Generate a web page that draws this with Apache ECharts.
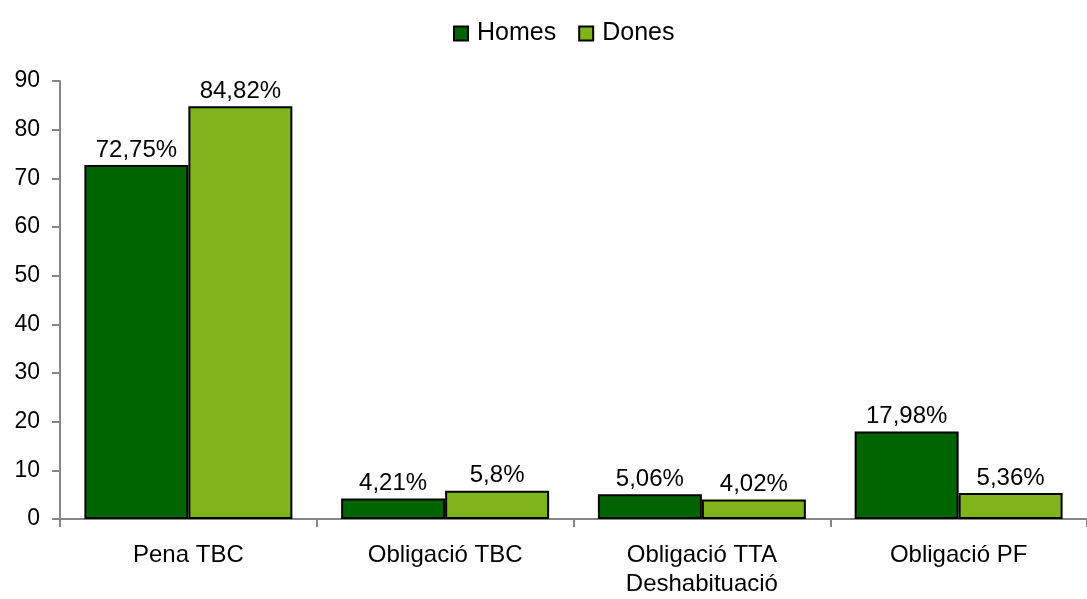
<!DOCTYPE html>
<html>
<head>
<meta charset="utf-8">
<script src="https://cdn.jsdelivr.net/npm/echarts@6/dist/echarts.min.js"></script>
<style>
  html, body { margin: 0; padding: 0; background: #fff; }
  #chart { width: 1087px; height: 599px; }
</style>
</head>
<body>
<div id="chart"></div>
<script>
// Homes vs Dones per tipus de mesura
const categories = ['Pena TBC', 'Obligació TBC', 'Obligació TTA\nDeshabituació', 'Obligació PF'];
const homes = [72.75, 4.21, 5.06, 17.98];
const dones = [84.82, 5.8, 4.02, 5.36];
const yTicks = { min: 0, max: 90, interval: 10 };

const FONT = 'Liberation Sans, Arial, sans-serif';
const AXIS = '#868686';
const fmtPct = v => String(v).replace('.', ',') + '%';

const chart = echarts.init(document.getElementById('chart'), null, { renderer: 'canvas' });

const label = {
  show: true, position: 'top', distance: 3, color: '#000',
  fontFamily: FONT, fontSize: 24, formatter: p => fmtPct(p.value),
};

chart.setOption({
  animation: false,
  textStyle: { fontFamily: FONT },
  legend: {
    top: 16, left: 448, icon: 'rect', itemWidth: 14, itemHeight: 14, itemGap: 22,
    textStyle: { fontSize: 25, color: '#000', fontFamily: FONT, padding: [0, 0, 0, 4] },
    data: ['Homes', 'Dones'],
  },
  grid: { left: 60, top: 81, width: 1032, bottom: 70, containLabel: false },
  xAxis: {
    type: 'category', data: categories,
    axisLine: { lineStyle: { color: AXIS, width: 2 } },
    axisTick: { show: true, length: 8, lineStyle: { color: AXIS, width: 2 } },
    axisLabel: { color: '#000', fontSize: 24, fontFamily: FONT, margin: 22, lineHeight: 29 },
  },
  yAxis: {
    type: 'value', min: yTicks.min, max: yTicks.max, interval: yTicks.interval,
    axisLine: { show: true, lineStyle: { color: AXIS, width: 2 } },
    axisTick: { show: true, length: 8, lineStyle: { color: AXIS, width: 2 } },
    axisLabel: { color: '#000', fontSize: 23, fontFamily: FONT, margin: 20 },
    splitLine: { show: false },
  },
  series: [
    {
      name: 'Homes', type: 'bar', data: homes, barGap: '0%', barCategoryGap: '19%',
      itemStyle: { color: '#006400', borderColor: '#000', borderWidth: 2 },
      label,
    },
    {
      name: 'Dones', type: 'bar', data: dones, barGap: '0%', barCategoryGap: '19%',
      itemStyle: { color: '#7fb41a', borderColor: '#000', borderWidth: 2 },
      label,
    },
  ],
});
</script>
</body>
</html>
